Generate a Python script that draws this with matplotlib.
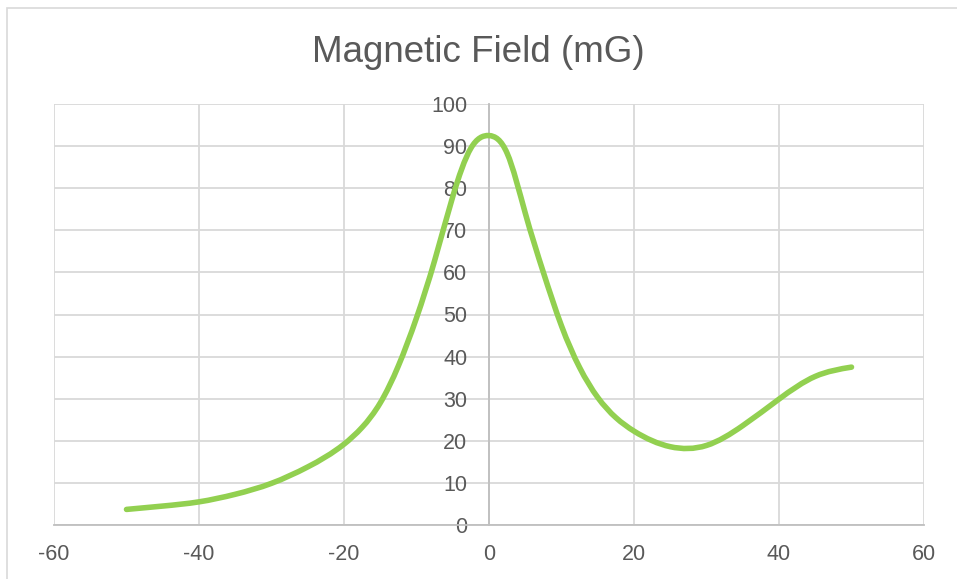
import matplotlib
matplotlib.use("Agg")
import numpy as np
import matplotlib.pyplot as plt
from matplotlib.path import Path
from matplotlib.patches import PathPatch, Rectangle

# distance and field readings
distance = [-50, -45, -40, -35, -30, -25, -20, -17.5, -15, -12.5, -10, -7.5, -5, -2.5,
            0, 2.5, 5, 7.5, 10, 12.5, 15, 17.5, 20, 25, 30, 35, 40, 45, 50]
field_mg = [3.7, 4.5, 5.5, 7.3, 9.9, 13.8, 19.2, 23.2, 29.0, 37.8, 49.2, 62.8, 78.0, 89.5,
            92.5, 88.3, 74.1, 60.0, 47.3, 37.4, 30.3, 25.5, 22.3, 18.6, 18.9, 23.6, 29.9, 35.3, 37.5]

x_ticks = [-60, -40, -20, 0, 20, 40, 60]
y_ticks = [0, 10, 20, 30, 40, 50, 60, 70, 80, 90, 100]

LINE = "#92D050"
GRID = "#D9D9D9"
TEXT = "#595959"


def spline_slopes(xs, ys):
    # natural cubic spline -> slope at each knot
    x = np.asarray(xs, float)
    y = np.asarray(ys, float)
    n = len(x)
    h = np.diff(x)
    A = np.zeros((n, n))
    b = np.zeros(n)
    A[0, 0] = A[-1, -1] = 1
    for i in range(1, n - 1):
        A[i, i - 1] = h[i - 1]
        A[i, i] = 2 * (h[i - 1] + h[i])
        A[i, i + 1] = h[i]
        b[i] = 6 * ((y[i + 1] - y[i]) / h[i] - (y[i] - y[i - 1]) / h[i - 1])
    M = np.linalg.solve(A, b)
    m = np.empty(n)
    m[:-1] = (y[1:] - y[:-1]) / h - h * (2 * M[:-1] + M[1:]) / 6
    m[-1] = (y[-1] - y[-2]) / h[-1] + h[-1] * (M[-2] + 2 * M[-1]) / 6
    return m


def smooth_path(xs, ys):
    # smoothed line as cubic bezier segments
    m = spline_slopes(xs, ys)
    verts = [(xs[0], ys[0])]
    codes = [Path.MOVETO]
    for i in range(len(xs) - 1):
        h = xs[i + 1] - xs[i]
        verts += [(xs[i] + h / 3, ys[i] + m[i] * h / 3),
                  (xs[i + 1] - h / 3, ys[i + 1] - m[i + 1] * h / 3),
                  (xs[i + 1], ys[i + 1])]
        codes += [Path.CURVE4] * 3
    return Path(verts, codes)


plt.rcParams['font.family'] = ['Liberation Sans', 'DejaVu Sans']
plt.rcParams['axes.unicode_minus'] = False

fig = plt.figure(figsize=(9.57, 5.79), dpi=100)
fig.patches.append(Rectangle((7 / 957, -0.1), 1.2, 1 - 8 / 579 + 0.1,
                             transform=fig.transFigure, fill=False,
                             edgecolor=GRID, linewidth=1.2))

ax = fig.add_axes([54 / 957, 54 / 579, 870 / 957, 421 / 579])
ax.set_xlim(-60, 60)
ax.set_ylim(0, 100)
ax.set_xticks(x_ticks)
ax.set_yticks(y_ticks)
ax.grid(True, color=GRID, linewidth=1.3)
ax.set_axisbelow(True)

for side in ['top', 'right']:
    ax.spines[side].set_visible(False)
ax.spines['left'].set_position(('data', 0))
ax.spines['left'].set_color("#BFBFBF")
ax.spines['left'].set_linewidth(1.3)
ax.spines['bottom'].set_color("#BFBFBF")
ax.spines['bottom'].set_linewidth(1.3)
ax.tick_params(length=0, labelsize=15.5, labelcolor=TEXT)
ax.tick_params(axis='x', pad=14)
ax.tick_params(axis='y', pad=15.5)

patch = PathPatch(smooth_path(distance, field_mg), facecolor='none', edgecolor=LINE,
                  linewidth=4, capstyle='round', joinstyle='round', zorder=3)
ax.add_patch(patch)

fig.text(0.5, 1 - 52 / 579, "Magnetic Field (mG)", ha='center', va='center',
         fontsize=26.5, color=TEXT)

fig.savefig("out.png", dpi=100)
